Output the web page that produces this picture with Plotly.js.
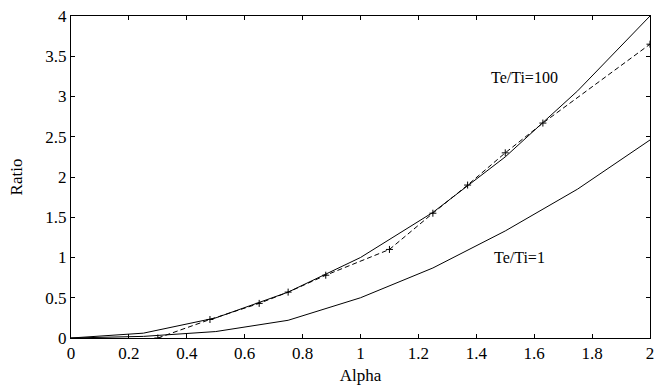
<!DOCTYPE html>
<html>
<head>
<meta charset="utf-8">
<script src="https://cdn.plot.ly/plotly-3.0.1.min.js"></script>
<style>html,body{margin:0;padding:0;background:#fff}#plot{width:654px;height:387px}</style>
</head>
<body>
<div id="plot"></div>
<script>
const alpha = [0, 0.25, 0.5, 0.75, 1.0, 1.25, 1.5, 1.75, 2.0];
const ratio100 = [0, 0.06, 0.25, 0.57, 1.0, 1.56, 2.25, 3.07, 4.0];
const ratio1 = [0, 0.02, 0.08, 0.22, 0.50, 0.87, 1.33, 1.85, 2.46];
const alphaSim = [0.3, 0.48, 0.65, 0.75, 0.88, 1.1, 1.25, 1.37, 1.5, 1.63, 2.0];
const ratioSim = [0.0, 0.23, 0.43, 0.57, 0.78, 1.1, 1.55, 1.9, 2.3, 2.67, 3.65];
const labels = ["Te/Ti=100", "Te/Ti=1"];
const labelX = [1.565, 1.55];
const labelY = [3.23, 1.0];
const serif = '"Liberation Serif", "Times New Roman", serif';

const traces = [
  {x: alpha, y: ratio100, mode: 'lines', line: {color: '#000', width: 1}},
  {x: alpha, y: ratio1, mode: 'lines', line: {color: '#000', width: 1}},
  {x: alphaSim, y: ratioSim, mode: 'lines+markers', line: {color: '#000', width: 1, dash: '5px,3px'},
   marker: {symbol: 'cross-thin-open', size: 5, color: '#000', line: {color: '#000', width: 1}}}
];
const axisBase = {showgrid: false, zeroline: false, showline: true, linecolor: '#000', linewidth: 1,
  mirror: 'ticks', ticks: 'inside', ticklen: 4, tickcolor: '#000', tickwidth: 1,
  ticklabeloverflow: 'allow', tickfont: {family: serif, size: 17, color: '#000'}};
const layout = {
  width: 654, height: 387,
  margin: {l: 71, r: 4, t: 16, b: 49},
  paper_bgcolor: '#fff', plot_bgcolor: '#fff',
  showlegend: false,
  xaxis: Object.assign({}, axisBase, {range: [0, 2], tickvals: [0,0.2,0.4,0.6,0.8,1,1.2,1.4,1.6,1.8,2],
    ticktext: ['0','0.2','0.4','0.6','0.8','1','1.2','1.4','1.6','1.8','2'],
    title: {text: 'Alpha', font: {family: serif, size: 17, color: '#000'}, standoff: 6}}),
  yaxis: Object.assign({}, axisBase, {range: [0, 4], tickvals: [0,0.5,1,1.5,2,2.5,3,3.5,4],
    ticktext: ['0','0.5','1','1.5','2','2.5','3','3.5','4'],
    title: {text: 'Ratio', font: {family: serif, size: 17, color: '#000'}, standoff: 18}}),
  annotations: labels.map((t, i) => ({x: labelX[i], y: labelY[i], xref: 'x', yref: 'y', text: t,
    showarrow: false, font: {family: serif, size: 16, color: '#000'}}))
};
Plotly.newPlot('plot', traces, layout, {displayModeBar: false, staticPlot: true});
</script>
</body>
</html>
